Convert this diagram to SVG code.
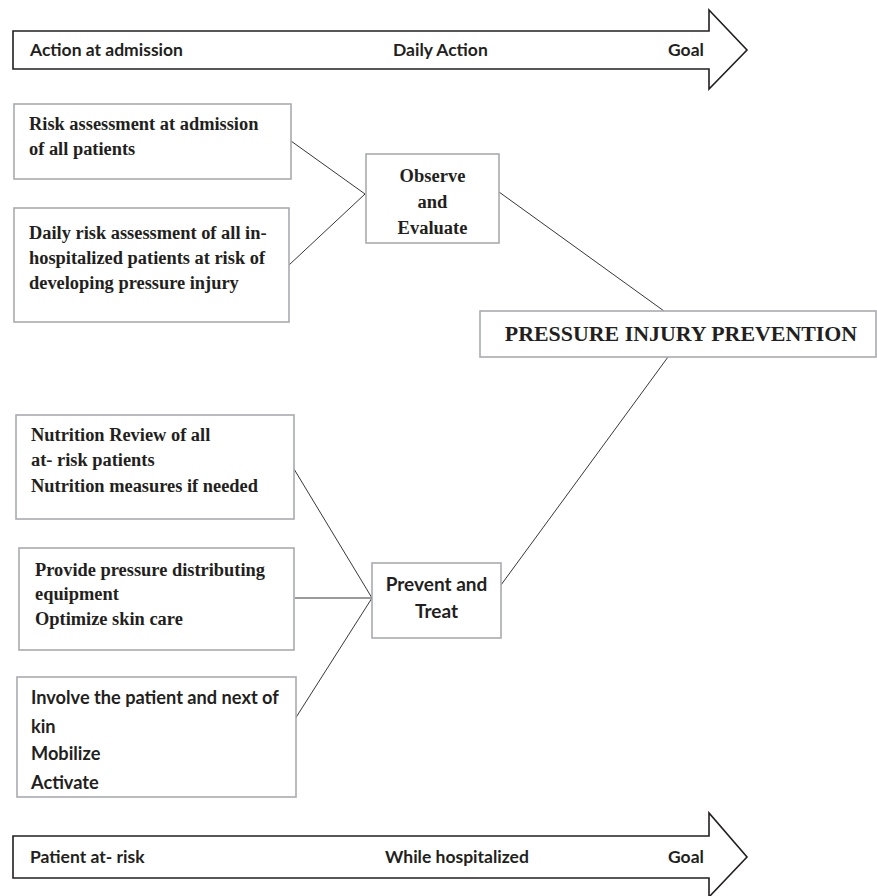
<svg xmlns="http://www.w3.org/2000/svg" width="877" height="896" viewBox="0 0 877 896">
<style>
.box{fill:#fff;stroke:#a9abae;stroke-width:1.6}
.arrow{fill:#fff;stroke:#231f20;stroke-width:1.6}
.serif{font-family:"Liberation Serif","Times New Roman",serif;font-weight:bold;fill:#231f20}
.sans{font-family:Lato,"Liberation Sans",sans-serif;font-weight:bold;fill:#231f20}
.ar{font-size:17.5px}
.ln{stroke:#231f20;stroke-width:0.9;fill:none}
</style>
<rect width="877" height="896" fill="#fff"/>
<g id="arrow-top">
<polygon class="arrow" points="13,31 709,31 709,10 747,50 709,89 709,69 13,69"/>
<text class="sans ar" x="30" y="56">Action at admission</text>
<text class="sans ar" x="393" y="56">Daily Action</text>
<text class="sans ar" x="668" y="56">Goal</text>
</g>
<g id="arrow-bottom">
<polygon class="arrow" points="13,836 709,836 709,813 747,857 709,897 709,878 13,878"/>
<text class="sans ar" x="30" y="863">Patient at- risk</text>
<text class="sans ar" x="385" y="863">While hospitalized</text>
<text class="sans ar" x="668" y="863">Goal</text>
</g>
<g id="connectors">
<line class="ln" x1="291" y1="141" x2="365" y2="194"/>
<line class="ln" x1="289" y1="265" x2="365" y2="194"/>
<line class="ln" x1="499" y1="192" x2="664" y2="311"/>
<line class="ln" x1="668" y1="357" x2="501" y2="585"/>
<line class="ln" x1="294" y1="469" x2="372" y2="598"/>
<line class="ln" x1="295" y1="598" x2="372" y2="598"/>
<line class="ln" x1="295" y1="719" x2="372" y2="598"/>
</g>
<g id="risk-admission">
<rect class="box" x="14" y="104" width="277" height="75"/>
<text class="serif" font-size="18.4" x="29" y="130">Risk assessment at admission</text>
<text class="serif" font-size="18.4" x="29" y="155">of all patients</text>
</g>
<g id="daily-risk">
<rect class="box" x="14" y="208" width="275" height="114"/>
<text class="serif" font-size="18.4" x="29" y="239">Daily risk assessment of all in-</text>
<text class="serif" font-size="18.4" x="29" y="264">hospitalized patients at risk of</text>
<text class="serif" font-size="18.4" x="29" y="289">developing pressure injury</text>
</g>
<g id="observe">
<rect class="box" x="366" y="154" width="133" height="89"/>
<text class="serif" font-size="18.5" x="432.5" y="182" text-anchor="middle">Observe</text>
<text class="serif" font-size="18.5" x="432.5" y="208" text-anchor="middle">and</text>
<text class="serif" font-size="18.5" x="432.5" y="234" text-anchor="middle">Evaluate</text>
</g>
<g id="pressure-injury-prevention">
<rect class="box" x="480" y="311" width="396" height="46"/>
<text class="serif" font-size="21.9" x="681" y="341" text-anchor="middle">PRESSURE INJURY PREVENTION</text>
</g>
<g id="nutrition">
<rect class="box" x="16" y="415" width="278" height="104"/>
<text class="serif" font-size="18.4" x="31" y="441">Nutrition Review of all</text>
<text class="serif" font-size="18.4" x="31" y="466">at- risk patients</text>
<text class="serif" font-size="18.4" x="31" y="492">Nutrition measures if needed</text>
</g>
<g id="pressure-equipment">
<rect class="box" x="19" y="548" width="275" height="102"/>
<text class="serif" font-size="18.4" x="35" y="576">Provide pressure distributing</text>
<text class="serif" font-size="18.4" x="35" y="600">equipment</text>
<text class="serif" font-size="18.4" x="35" y="625">Optimize skin care</text>
</g>
<g id="prevent-treat">
<rect class="box" x="372" y="563" width="129" height="75"/>
<text class="sans" font-size="19" x="436.5" y="591" text-anchor="middle">Prevent and</text>
<text class="sans" font-size="19" x="436.5" y="618" text-anchor="middle">Treat</text>
</g>
<g id="involve">
<rect class="box" x="17" y="677" width="279" height="120"/>
<text class="sans" font-size="18.2" x="31" y="704">Involve the patient and next of</text>
<text class="sans" font-size="18.2" x="31" y="733">kin</text>
<text class="sans" font-size="18.2" x="31" y="760">Mobilize</text>
<text class="sans" font-size="18.2" x="31" y="789">Activate</text>
</g>
</svg>
